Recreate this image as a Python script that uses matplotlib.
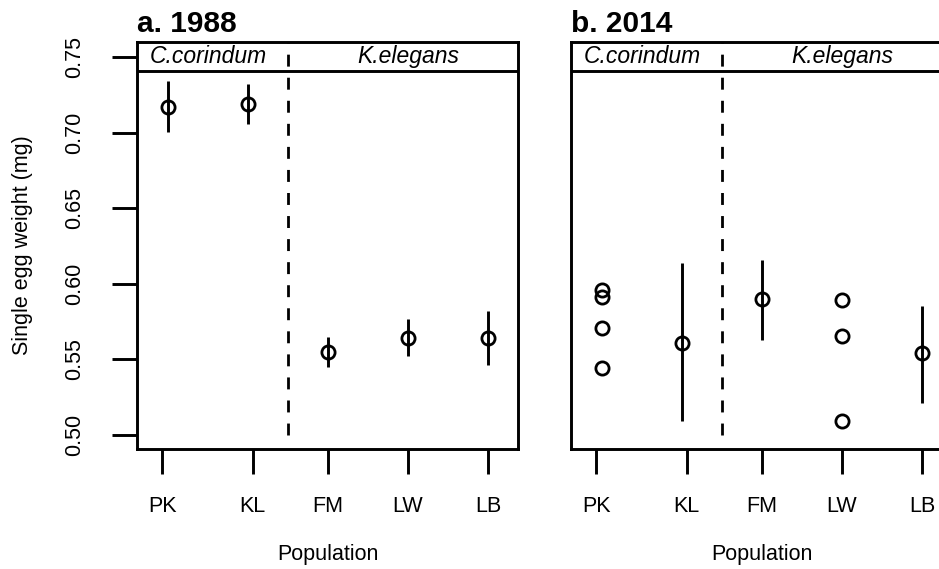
import matplotlib
matplotlib.use("Agg")
import matplotlib.pyplot as plt
import numpy as np

plt.rcParams['font.family'] = ['Liberation Sans', 'DejaVu Sans']

# data
pops = ['PK', 'KL', 'FM', 'LW', 'LB']
species_left = 'C.corindum'
species_right = 'K.elegans'

# 1988: mean and interval for every population
mean_88 = [0.717, 0.719, 0.555, 0.564, 0.564]
low_88 = [0.7006, 0.706, 0.545, 0.552, 0.546]
high_88 = [0.734, 0.732, 0.565, 0.5765, 0.582]

# 2014: KL, FM, LB summarised; PK and LW shown as raw values
summ_pops_14 = ['KL', 'FM', 'LB']
mean_14 = [0.561, 0.590, 0.554]
low_14 = [0.509, 0.563, 0.521]
high_14 = [0.614, 0.616, 0.5855]
raw_pk_14 = [0.596, 0.591, 0.5705, 0.544]
raw_lw_14 = [0.589, 0.5655, 0.509]

yticks = [0.50, 0.55, 0.60, 0.65, 0.70, 0.75]

# layout
W, H = 939, 569
xpos = np.arange(1, len(pops) + 1)
tickpos = [0.93, 2.06, 3, 4, 5]
xlim = (0.6125, 5.375)
ylim = (0.4907, 0.76)
strip_y = 0.7407
split_x = 2.5
lw = 2.1
fs = 15.5

fig = plt.figure(figsize=(W / 100, H / 100), dpi=100)
ax_a = fig.add_axes([137 / W, 120 / H, 381 / W, 407 / H])
ax_b = fig.add_axes([571 / W, 120 / H, 381 / W, 407 / H])


def frame(ax, title, show_y):
    ax.set_xlim(*xlim)
    ax.set_ylim(*ylim)
    for s in ax.spines.values():
        s.set_linewidth(lw)
    ax.set_xticks(tickpos)
    ax.set_xticklabels(pops, fontsize=fs)
    ax.tick_params(axis='x', length=18, width=lw, pad=16)
    if show_y:
        ax.set_yticks(yticks)
        ax.set_yticklabels(['%.2f' % v for v in yticks], fontsize=fs,
                           rotation=90, va='center')
        ax.tick_params(axis='y', length=18, width=lw, pad=19)
    else:
        ax.set_yticks([])
    # strip with species names
    ax.axhline(strip_y, color='black', lw=lw)
    ymid = (strip_y + ylim[1]) / 2
    ax.text(1.5, ymid, species_left, style='italic', fontsize=16.5,
            ha='center', va='center')
    ax.text(4, ymid, species_right, style='italic', fontsize=16.5,
            ha='center', va='center')
    ax.plot([split_x, split_x], [0.50, ylim[1]], color='black', lw=2.0,
            dashes=(4.3, 4), clip_on=False)
    ax.set_title(title, loc='left', fontweight='bold', fontsize=21.5, pad=7)
    ax.text(0.5, -0.2604, 'Population', transform=ax.transAxes,
            ha='center', va='center', fontsize=fs)


mk = dict(marker='o', ms=9.5, mfc='none', mec='black', mew=2.0, ls='none')

frame(ax_a, 'a. 1988', True)
ax_a.vlines(xpos, low_88, high_88, color='black', lw=lw)
ax_a.plot(xpos, mean_88, **mk)

frame(ax_b, 'b. 2014', False)
sx = [xpos[pops.index(p)] for p in summ_pops_14]
ax_b.vlines(sx, low_14, high_14, color='black', lw=lw)
ax_b.plot(sx, mean_14, **mk)
ax_b.plot([xpos[pops.index('PK')]] * len(raw_pk_14), raw_pk_14, **mk)
ax_b.plot([xpos[pops.index('LW')]] * len(raw_lw_14), raw_lw_14, **mk)

fig.text(23 / W, 1 - 245.5 / H, 'Single egg weight (mg)', rotation=90,
         ha='center', va='center', fontsize=fs)

fig.savefig('out.png', dpi=100)
